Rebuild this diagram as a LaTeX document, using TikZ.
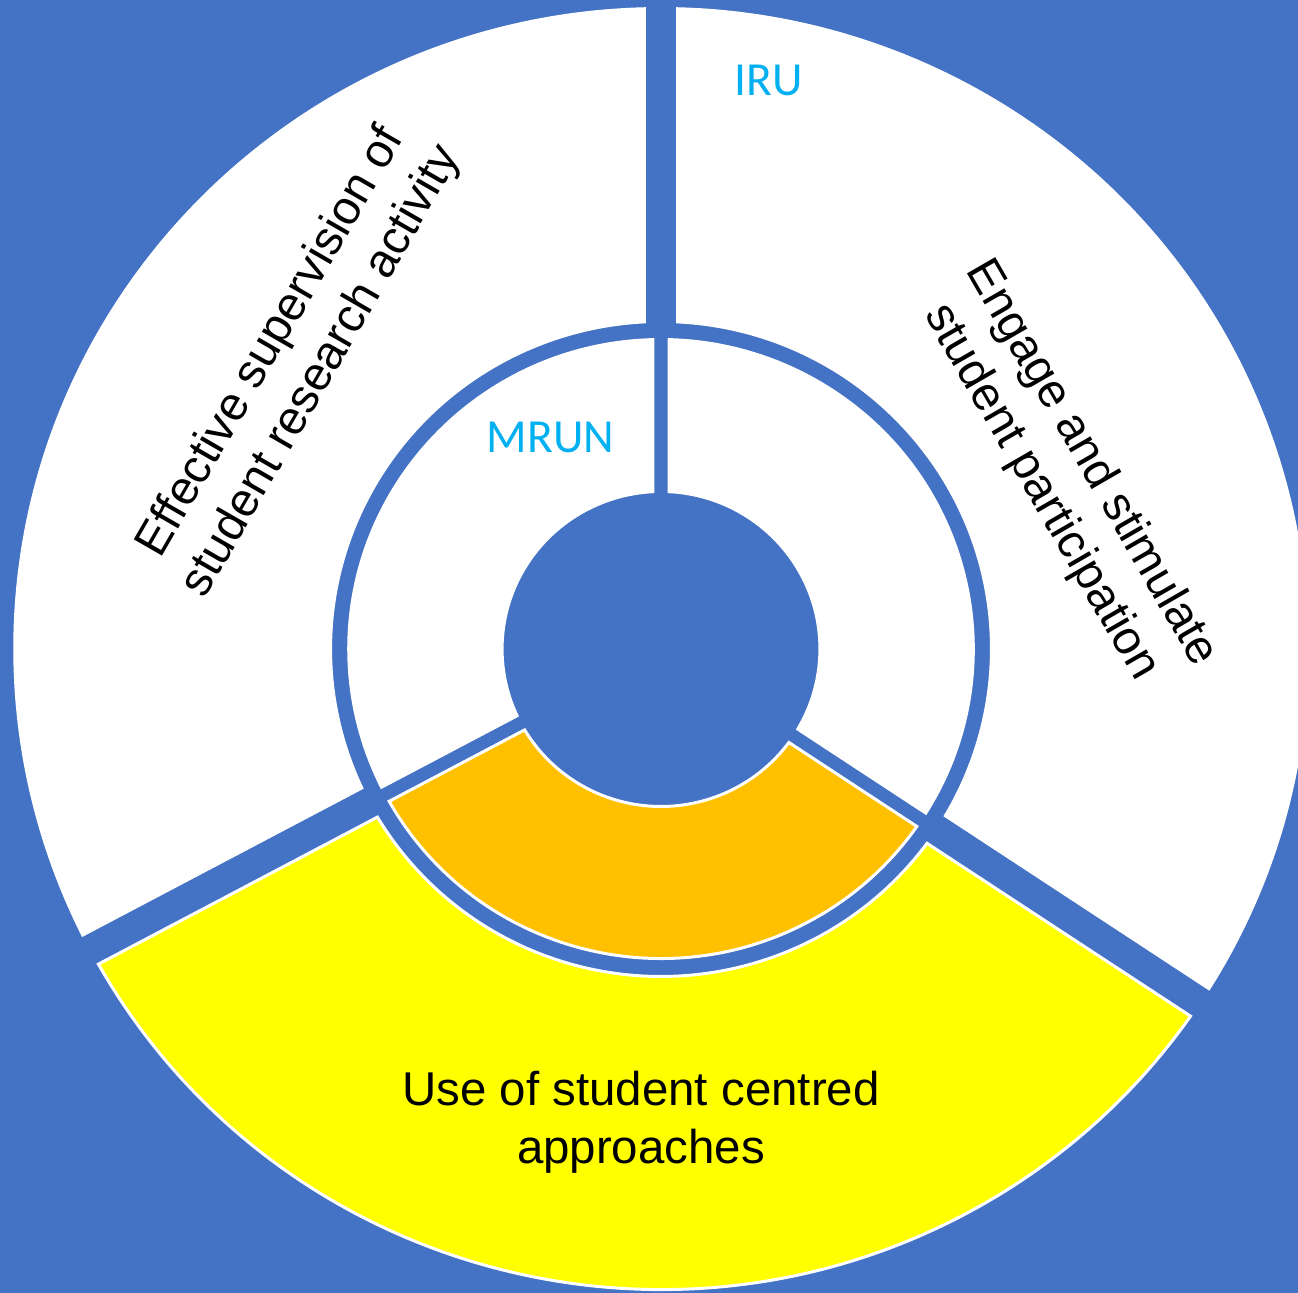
\documentclass[tikz,border=0pt]{standalone}
\usepackage{fontspec}
\setmainfont{Liberation Sans}
\newfontfamily\carlitofont{Carlito}
\definecolor{backblue}{HTML}{4472C4}
\definecolor{partyellow}{HTML}{FFFF00}
\definecolor{partorange}{HTML}{FFC000}
\definecolor{ringcyan}{HTML}{00B0F0}
\tikzset{
  part/.style={draw=white, line width=1.7pt},
  parttext/.style={font=\fontsize{27pt}{33pt}\selectfont, align=center, inner sep=0pt},
  ringname/.style={font=\carlitofont\fontsize{27pt}{33pt}\selectfont, text=ringcyan, inner sep=0pt}
}
\begin{document}
\begin{tikzpicture}[x=0.02cm,y=0.02cm]
    \path [use as bounding box, fill=backblue] (-661,-644) rectangle (637,649);

\begin{scope}[xscale=1.009]
    % outer ring
    \draw [part, fill=white] ({90+asin(16.5/640.5)}:640.5) arc ({90+asin(16.5/640.5)}:{208-asin(16.5/640.5)}:640.5)
      -- ({208-asin(16.5/327.5)}:327.5) arc ({208-asin(16.5/327.5)}:{90+asin(16.5/327.5)}:327.5) -- cycle;
    \draw [part, fill=partyellow] ({208+asin(16.5/640.5)}:640.5) arc ({208+asin(16.5/640.5)}:{326.5-asin(16.5/640.5)}:640.5)
      -- ({326.5-asin(16.5/327.5)}:327.5) arc ({326.5-asin(16.5/327.5)}:{208+asin(16.5/327.5)}:327.5) -- cycle;
    \draw [part, fill=white] ({326.5+asin(16.5/640.5)}:640.5) arc ({326.5+asin(16.5/640.5)}:{450-asin(16.5/640.5)}:640.5)
      -- ({450-asin(16.5/327.5)}:327.5) arc ({450-asin(16.5/327.5)}:{326.5+asin(16.5/327.5)}:327.5) -- cycle;

    % inner ring
    \draw [part, fill=white] ({90+asin(8/309.5)}:309.5) arc ({90+asin(8/309.5)}:{208-asin(8/309.5)}:309.5)
      -- ({208-asin(8/157.5)}:157.5) arc ({208-asin(8/157.5)}:{90+asin(8/157.5)}:157.5) -- cycle;
    \draw [part, fill=partorange] ({208+asin(8/309.5)}:309.5) arc ({208+asin(8/309.5)}:{326.5-asin(8/309.5)}:309.5)
      -- ({326.5-asin(8/157.5)}:157.5) arc ({326.5-asin(8/157.5)}:{208+asin(8/157.5)}:157.5) -- cycle;
    \draw [part, fill=white] ({326.5+asin(8/309.5)}:309.5) arc ({326.5+asin(8/309.5)}:{450-asin(8/309.5)}:309.5)
      -- ({450-asin(8/157.5)}:157.5) arc ({450-asin(8/157.5)}:{326.5+asin(8/157.5)}:157.5) -- cycle;
\end{scope}

    \node [parttext, rotate=60] (supervision) at (-364,292) {Effective supervision of\\student research activity};
    \node [parttext, rotate=-60] (engage) at (405,171) {Engage and stimulate\\student participation};
    \node [parttext] (centred) at (-20,-473) {Use of student centred\\approaches};
    \node [ringname] (iru) at (107.5,569) {IRU};
    \node [ringname] (mrun) at (-110.5,211.5) {MRUN};
\end{tikzpicture}
\end{document}
